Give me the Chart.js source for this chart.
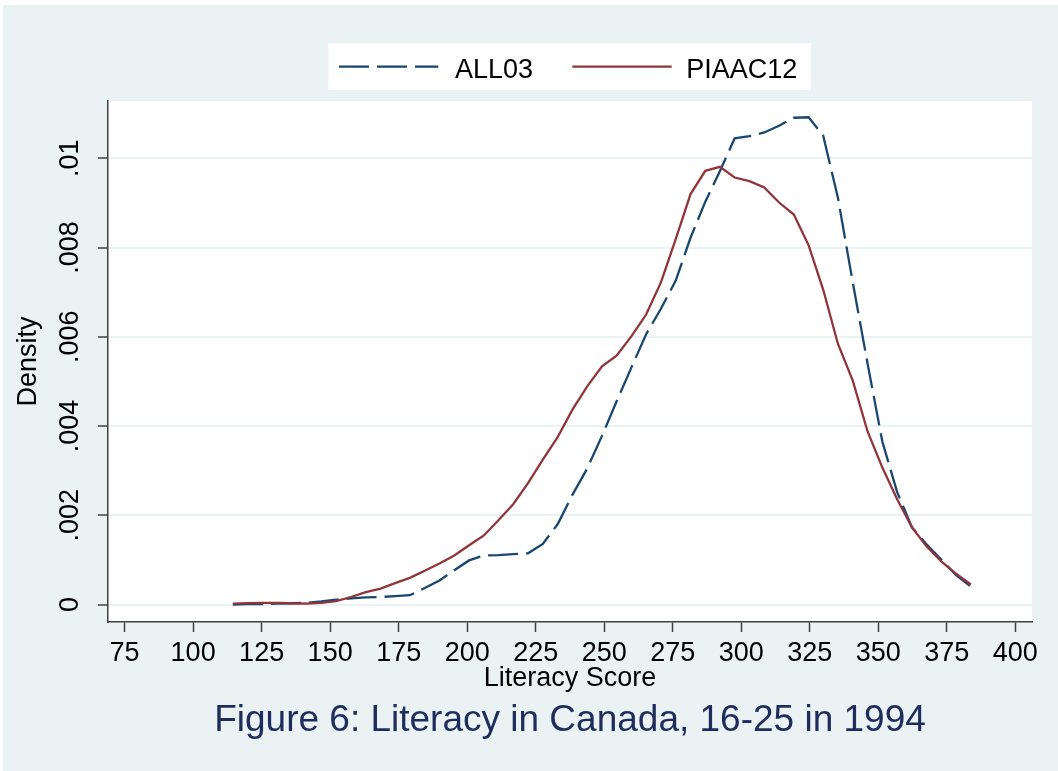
<!DOCTYPE html>
<html>
<head>
<meta charset="utf-8">
<script src="https://cdn.jsdelivr.net/npm/chart.js@4"></script>
<style>
html,body{margin:0;padding:0;background:#ffffff;}
#wrap{width:1058px;height:771px;}
</style>
</head>
<body>
<div id="wrap"><canvas id="c" width="1058" height="771"></canvas></div>
<script>
// Evaluation points (Literacy Score)
const scores = [114.5,119.9,125.3,130.7,136.0,141.4,146.8,152.2,157.6,163.0,
                168.4,173.7,179.1,184.5,189.9,195.3,200.7,206.1,211.4,216.8,
                222.2,227.6,233.0,238.4,243.8,249.2,254.5,259.9,265.3,270.7,
                276.1,281.5,286.9,292.2,297.6,303.0,308.4,313.8,319.2,324.6,
                329.9,335.3,340.7,346.1,351.5,356.9,362.3,367.6,373.0,378.4,383.8];
// Density ALL03
const all03 = [0.00000,0.00001,0.00001,0.00002,0.00003,0.00004,0.00007,0.00011,0.00014,0.00016,
               0.00017,0.00019,0.00021,0.00037,0.00054,0.00077,0.00099,0.00110,0.00111,0.00113,
               0.00115,0.00136,0.00180,0.00246,0.00305,0.00378,0.00455,0.00531,0.00606,0.00663,
               0.00726,0.00822,0.00903,0.00971,0.01045,0.01050,0.01058,0.01073,0.01091,0.01092,
               0.01051,0.00911,0.00722,0.00540,0.00365,0.00252,0.00173,0.00135,0.00101,0.00066,0.00040];
// Density PIAAC12
const piaac12 = [0.00002,0.00003,0.00004,0.00004,0.00003,0.00002,0.00004,0.00008,0.00017,0.00028,
                 0.00036,0.00048,0.00060,0.00076,0.00092,0.00110,0.00133,0.00155,0.00189,0.00225,
                 0.00272,0.00325,0.00375,0.00437,0.00489,0.00534,0.00558,0.00601,0.00650,0.00722,
                 0.00819,0.00920,0.00972,0.00981,0.00957,0.00949,0.00935,0.00901,0.00874,0.00805,
                 0.00706,0.00584,0.00502,0.00388,0.00307,0.00236,0.00173,0.00131,0.00097,0.00069,0.00045];
const seriesLabels = ['ALL03','PIAAC12'];
const xTicks = [75,100,125,150,175,200,225,250,275,300,325,350,375,400];
const yTicks = [0,0.002,0.004,0.006,0.008,0.01];
const yTickLabels = ['0','.002','.004','.006','.008','.01'];
const chartTitle = 'Figure 6: Literacy in Canada, 16-25 in 1994';
const xTitle = 'Literacy Score';
const yTitle = 'Density';

const FONT = 'Liberation Sans';
const BG = '#eaf2f3';
const AXIS = '#404040';
const NAVY = '#1a476f';
const MAROON = '#90353b';

const bgPlugin = {
  id: 'stataBg',
  beforeDraw(chart) {
    const {ctx, chartArea: a} = chart;
    ctx.save();
    ctx.fillStyle = '#ffffff';
    ctx.fillRect(0, 0, chart.width, chart.height);
    ctx.fillStyle = BG;
    ctx.fillRect(3, 5, chart.width - 3, chart.height - 5);
    ctx.fillStyle = '#ffffff';
    ctx.fillRect(a.left, a.top, a.right - a.left, a.bottom - a.top);
    ctx.restore();
  }
};

const legendPlugin = {
  id: 'stataLegend',
  afterDraw(chart) {
    const {ctx, chartArea: a} = chart;
    const cx = (a.left + a.right) / 2;
    const ds = chart.data.datasets;
    ctx.save();
    ctx.fillStyle = '#ffffff';
    ctx.fillRect(cx - 241.7, 43.3, 482.7, 46.7);
    const ly = 66.7;
    ctx.lineWidth = 2.2;
    ctx.lineCap = 'butt';
    ctx.strokeStyle = ds[0].borderColor;
    ctx.setLineDash([30, 8]);
    ctx.beginPath();
    ctx.moveTo(cx - 231, ly);
    ctx.lineTo(cx - 131.7, ly);
    ctx.stroke();
    ctx.setLineDash([]);
    ctx.strokeStyle = ds[1].borderColor;
    ctx.beginPath();
    ctx.moveTo(cx + 2.3, ly);
    ctx.lineTo(cx + 101.7, ly);
    ctx.stroke();
    ctx.fillStyle = '#000000';
    ctx.font = '27px "' + FONT + '"';
    ctx.textAlign = 'left';
    ctx.textBaseline = 'alphabetic';
    ctx.fillText(ds[0].label, cx - 115, 78.3);
    ctx.fillText(ds[1].label, cx + 116.2, 78.3);
    ctx.restore();
  }
};

new Chart(document.getElementById('c'), {
  type: 'line',
  data: {
    datasets: [
      {
        label: seriesLabels[0],
        data: scores.map((x, i) => ({x: x, y: all03[i]})),
        borderColor: NAVY,
        borderWidth: 2.3,
        borderDash: [30, 8],
        pointRadius: 0,
        tension: 0,
        fill: false,
        order: 2
      },
      {
        label: seriesLabels[1],
        data: scores.map((x, i) => ({x: x, y: piaac12[i]})),
        borderColor: MAROON,
        borderWidth: 2.3,
        pointRadius: 0,
        tension: 0,
        fill: false,
        order: 1
      }
    ]
  },
  options: {
    responsive: false,
    animation: false,
    devicePixelRatio: 1,
    layout: {padding: {left: 3, right: 26, top: 101, bottom: 27.6}},
    plugins: {
      legend: {display: false},
      tooltip: {enabled: false},
      title: {
        display: true,
        position: 'bottom',
        fullSize: false,
        text: chartTitle,
        color: '#1e2d5c',
        font: {family: FONT, size: 37, weight: 'normal', lineHeight: 1.2},
        padding: {top: 3.8, bottom: 0}
      }
    },
    scales: {
      x: {
        type: 'linear',
        min: 68.94,
        max: 406.1,
        afterBuildTicks: s => { s.ticks = xTicks.map(v => ({value: v})); },
        afterFit: s => { s.height = 73.2; },
        ticks: {
          callback: v => String(v),
          font: {family: FONT, size: 27},
          color: '#000000',
          padding: 5,
          maxRotation: 0,
          minRotation: 0,
          autoSkip: false
        },
        grid: {drawOnChartArea: false, tickLength: 10, tickColor: AXIS, tickWidth: 1.5},
        border: {display: true, color: AXIS, width: 1.5},
        title: {
          display: true,
          text: xTitle,
          color: '#000000',
          font: {family: FONT, size: 27, lineHeight: 1.2},
          padding: {top: 0, bottom: 0}
        }
      },
      y: {
        type: 'linear',
        min: -0.00039,
        max: 0.011285,
        afterBuildTicks: s => { s.ticks = yTicks.map(v => ({value: v})); },
        afterFit: s => { s.width = 105; },
        ticks: {
          callback: v => yTickLabels[yTicks.indexOf(v)],
          font: {family: FONT, size: 27},
          color: '#000000',
          minRotation: 90,
          maxRotation: 90,
          crossAlign: 'center',
          padding: 1,
          autoSkip: false
        },
        grid: {color: BG, lineWidth: 2, tickLength: 10, tickColor: AXIS, tickWidth: 1.5},
        border: {display: true, color: AXIS, width: 1.5},
        title: {
          display: true,
          text: yTitle,
          color: '#000000',
          font: {family: FONT, size: 27, lineHeight: 1.2},
          padding: {top: 9.4, bottom: 0}
        }
      }
    }
  },
  plugins: [bgPlugin, legendPlugin]
});
</script>
</body>
</html>
